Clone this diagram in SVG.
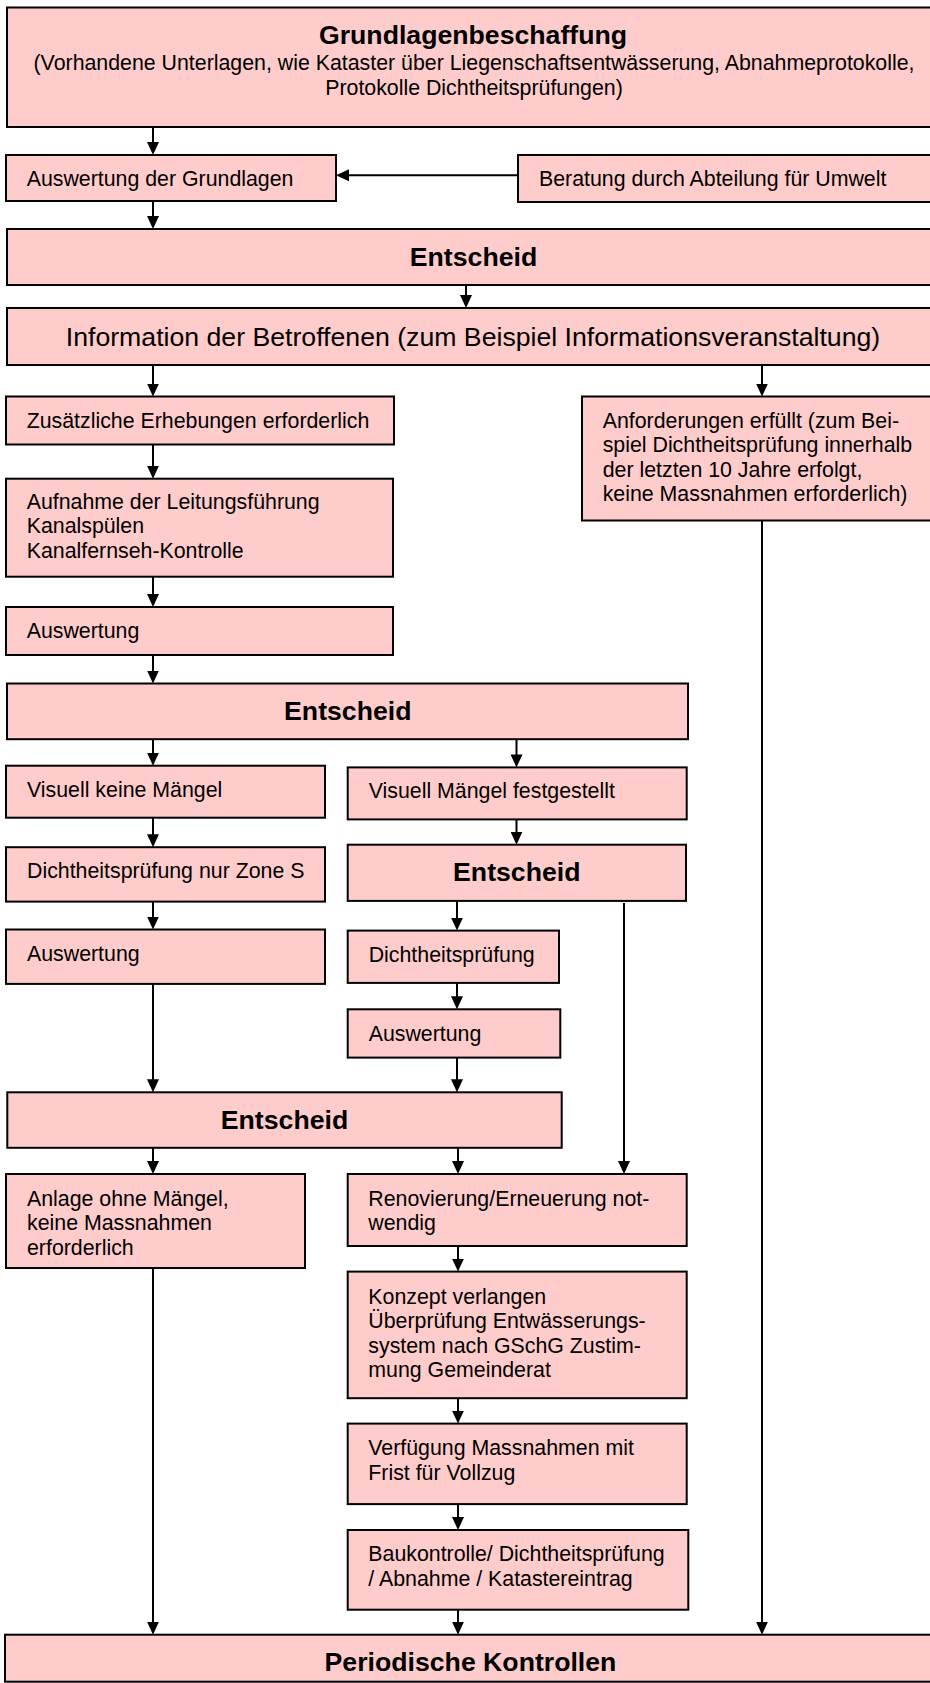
<svg xmlns="http://www.w3.org/2000/svg" width="930" height="1683" viewBox="0 0 930 1683">
<style>
.b{fill:#ffcccc;stroke:#000;stroke-width:2}
.t{font-family:"Liberation Sans",Arial,sans-serif;font-size:21.33px;fill:#000}
.h{font-family:"Liberation Sans",Arial,sans-serif;font-size:26.67px;font-weight:bold;fill:#000;text-anchor:middle}
.m{text-anchor:middle}
.c line{stroke:#000;stroke-width:2;fill:none;marker-end:url(#ah)}
.c path{stroke:#000;stroke-width:2;fill:none}
</style>
<defs>
<marker id="ah" markerUnits="userSpaceOnUse" markerWidth="13" markerHeight="12" viewBox="0 0 13 12" refX="6" refY="6" orient="auto"><path d="M0,0 L13,6 L0,12 z" fill="#000"/></marker>
</defs>
<rect width="930" height="1683" fill="#fff"/>
<g id="n1"><rect class="b" x="7" y="7.5" width="925" height="119.5"/>
<text class="h" x="473" y="43.5">Grundlagenbeschaffung</text>
<text class="t m" x="474" y="69.8">(Vorhandene Unterlagen, wie Kataster über Liegenschaftsentwässerung, Abnahmeprotokolle,</text>
<text class="t m" x="474" y="94.8">Protokolle Dichtheitsprüfungen)</text></g>
<g id="n2"><rect class="b" x="6" y="155" width="330" height="46"/><text class="t" x="26.7" y="186">Auswertung der Grundlagen</text></g>
<g id="n3"><rect class="b" x="518" y="155" width="414" height="47"/><text class="t" x="539" y="186">Beratung durch Abteilung für Umwelt</text></g>
<g id="n4"><rect class="b" x="7" y="229" width="925" height="56"/><text class="h" x="473.5" y="265.5">Entscheid</text></g>
<g id="n5"><rect class="b" x="7" y="308" width="925" height="57"/><text class="t m" x="473" y="345.5" style="font-size:26.67px">Information der Betroffenen (zum Beispiel Informationsveranstaltung)</text></g>
<g id="n6"><rect class="b" x="6" y="396.5" width="388" height="48"/><text class="t" x="26.7" y="427.5">Zusätzliche Erhebungen erforderlich</text></g>
<g id="n7"><rect class="b" x="582" y="396.5" width="350" height="124"/>
<text class="t" x="602.7" y="427.5">Anforderungen erfüllt (zum Bei-</text>
<text class="t" x="602.7" y="452">spiel Dichtheitsprüfung innerhalb</text>
<text class="t" x="602.7" y="476.5">der letzten 10 Jahre erfolgt,</text>
<text class="t" x="602.7" y="501">keine Massnahmen erforderlich)</text></g>
<g id="n8"><rect class="b" x="6" y="478.7" width="387" height="98"/>
<text class="t" x="26.7" y="508.5">Aufnahme der Leitungsführung</text>
<text class="t" x="26.7" y="533">Kanalspülen</text>
<text class="t" x="26.7" y="557.5">Kanalfernseh-Kontrolle</text></g>
<g id="n9"><rect class="b" x="6" y="607" width="387" height="48"/><text class="t" x="26.7" y="637.5">Auswertung</text></g>
<g id="n10"><rect class="b" x="7" y="683.5" width="681" height="55.7"/><text class="h" x="347.8" y="719.5">Entscheid</text></g>
<g id="n11"><rect class="b" x="6" y="765.7" width="319" height="52"/><text class="t" x="27" y="796.5">Visuell keine Mängel</text></g>
<g id="n12"><rect class="b" x="347.7" y="767.4" width="339" height="52"/><text class="t" x="368.7" y="798">Visuell Mängel festgestellt</text></g>
<g id="n13"><rect class="b" x="6" y="847.2" width="319" height="54.4"/><text class="t" x="27" y="878">Dichtheitsprüfung nur Zone S</text></g>
<g id="n14"><rect class="b" x="347.7" y="844.7" width="338.3" height="56.2"/><text class="h" x="516.8" y="880.5">Entscheid</text></g>
<g id="n15"><rect class="b" x="6" y="929.5" width="319" height="54.4"/><text class="t" x="27" y="961">Auswertung</text></g>
<g id="n16"><rect class="b" x="347.7" y="930.6" width="211.3" height="52.3"/><text class="t" x="368.7" y="962">Dichtheitsprüfung</text></g>
<g id="n17"><rect class="b" x="347.7" y="1009.3" width="212.6" height="48.3"/><text class="t" x="368.7" y="1040.5">Auswertung</text></g>
<g id="n18"><rect class="b" x="7.3" y="1092.3" width="554.4" height="55.5"/><text class="h" x="284.5" y="1128.5">Entscheid</text></g>
<g id="n19"><rect class="b" x="6" y="1174" width="299" height="94"/>
<text class="t" x="27" y="1205.5">Anlage ohne Mängel,</text>
<text class="t" x="27" y="1230">keine Massnahmen</text>
<text class="t" x="27" y="1254.5">erforderlich</text></g>
<g id="n20"><rect class="b" x="347.7" y="1174" width="339" height="72"/>
<text class="t" x="368.3" y="1205.5">Renovierung/Erneuerung not-</text>
<text class="t" x="368.3" y="1230">wendig</text></g>
<g id="n21"><rect class="b" x="347.7" y="1271.6" width="339" height="126.6"/>
<text class="t" x="368.3" y="1303.5">Konzept verlangen</text>
<text class="t" x="368.3" y="1328">Überprüfung Entwässerungs-</text>
<text class="t" x="368.3" y="1352.5">system nach GSchG Zustim-</text>
<text class="t" x="368.3" y="1377">mung Gemeinderat</text></g>
<g id="n22"><rect class="b" x="347.7" y="1423.6" width="339" height="80.5"/>
<text class="t" x="368.3" y="1455">Verfügung Massnahmen mit</text>
<text class="t" x="368.3" y="1479.5">Frist für Vollzug</text></g>
<g id="n23"><rect class="b" x="347.7" y="1530" width="340.6" height="79.7"/>
<text class="t" x="368.3" y="1561">Baukontrolle/ Dichtheitsprüfung</text>
<text class="t" x="368.3" y="1585.5">/ Abnahme / Katastereintrag</text></g>
<g id="n24"><rect class="b" x="5" y="1634.7" width="927" height="47"/><text class="h" x="470.5" y="1671">Periodische Kontrollen</text></g>
<g id="connectors" class="c">
<line x1="153" y1="127" x2="153" y2="148"/>
<line x1="518" y1="175.3" x2="343" y2="175.3"/>
<line x1="153" y1="201" x2="153" y2="222"/>
<line x1="466" y1="285" x2="466" y2="301"/>
<line x1="153" y1="365" x2="153" y2="389.5"/>
<line x1="762" y1="365" x2="762" y2="389.5"/>
<line x1="153" y1="444.5" x2="153" y2="471.7"/>
<line x1="153" y1="576.7" x2="153" y2="600"/>
<line x1="153" y1="655" x2="153" y2="676.5"/>
<line x1="153" y1="739.2" x2="153" y2="758.7"/>
<line x1="516.5" y1="739.2" x2="516.5" y2="760.4"/>
<line x1="153" y1="817.7" x2="153" y2="840.2"/>
<line x1="516.5" y1="819.4" x2="516.5" y2="837.7"/>
<line x1="153" y1="901.6" x2="153" y2="922.5"/>
<line x1="457" y1="900.9" x2="457" y2="923.6"/>
<line x1="624" y1="903" x2="624" y2="1167"/>
<line x1="457" y1="983" x2="457" y2="1002.3"/>
<line x1="457" y1="1057.6" x2="457" y2="1085.3"/>
<line x1="153" y1="983.9" x2="153" y2="1085.3"/>
<line x1="153" y1="1147.8" x2="153" y2="1167"/>
<line x1="458" y1="1147.8" x2="458" y2="1167"/>
<line x1="458" y1="1246" x2="458" y2="1264.6"/>
<line x1="458" y1="1398.2" x2="458" y2="1416.6"/>
<line x1="458" y1="1504.1" x2="458" y2="1523"/>
<line x1="458" y1="1609.7" x2="458" y2="1627.7"/>
<line x1="153" y1="1268" x2="153" y2="1627.7"/>
<line x1="762" y1="520.5" x2="762" y2="1627.7"/>
</g>
</svg>
